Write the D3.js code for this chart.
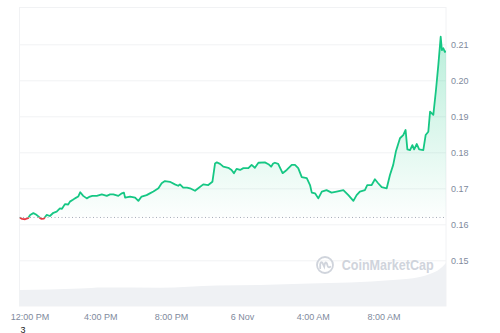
<!DOCTYPE html>
<html>
<head>
<meta charset="utf-8">
<script src="https://cdn.jsdelivr.net/npm/d3@7"></script>
<style>
body { margin: 0; background: #ffffff; }
text { font-family: "Liberation Sans", Arial, Helvetica, sans-serif; }
</style>
</head>
<body>
<div id="wrapper"></div>
<script>
// Data: minutes after 12:00 PM on 5 Nov, price in USD
var minutes = [-34, -25, -15, -5, 2, 13, 22, 30, 36, 41, 49, 58, 69, 81, 92, 103, 110, 120, 131, 137, 147,
    154, 165, 172, 182, 194, 202, 213, 228, 245, 262, 273, 284, 301, 313, 320, 324, 341, 358, 369, 380,
    397, 408, 420, 437, 448, 459, 476, 493, 504, 510, 521, 534, 544, 561, 572, 589, 606, 620, 629, 635,
    646, 657, 674, 685, 693, 702, 714, 725, 742, 753, 764, 776, 798, 810, 819, 826, 832, 843, 858, 872,
    889, 900, 911, 923, 940, 951, 957, 968, 979, 991, 1007, 1024, 1041, 1064, 1081, 1098, 1109, 1120, 1137, 1145,
    1160, 1171, 1182, 1194, 1211, 1222, 1233, 1242, 1256, 1267, 1275, 1281, 1290, 1298, 1304, 1313, 1321, 1335, 1343, 1352,
    1358, 1369, 1378, 1386, 1394, 1398, 1403, 1408, 1412];
var prices = [0.1619, 0.1615, 0.1614, 0.1617, 0.1626, 0.1631, 0.1627, 0.1622, 0.1617, 0.1615, 0.1616, 0.1626, 0.1623, 0.1632, 0.1635, 0.1644, 0.1643, 0.1656, 0.1655, 0.1663, 0.1668,
    0.1672, 0.1677, 0.1689, 0.1679, 0.1672, 0.1676, 0.1679, 0.1679, 0.1683, 0.1679, 0.1683, 0.1683, 0.1679, 0.1686, 0.1688, 0.1674, 0.1677, 0.1674, 0.1665, 0.1677,
    0.1681, 0.1686, 0.1691, 0.1700, 0.1714, 0.1720, 0.1718, 0.1711, 0.1707, 0.1711, 0.1702, 0.1702, 0.1700, 0.1693, 0.1700, 0.1711, 0.1709, 0.1718, 0.1769, 0.1772,
    0.1768, 0.1760, 0.1757, 0.1751, 0.1742, 0.1754, 0.1751, 0.1756, 0.1756, 0.1765, 0.1757, 0.1771, 0.1772, 0.1767, 0.1760, 0.1769, 0.1771, 0.1768, 0.1742, 0.1751,
    0.1765, 0.1765, 0.1756, 0.1731, 0.1728, 0.1709, 0.1688, 0.1686, 0.1672, 0.1691, 0.1695, 0.1688, 0.1691, 0.1695, 0.1681, 0.1665, 0.1681, 0.1691, 0.1695, 0.1709,
    0.1709, 0.1725, 0.1714, 0.1703, 0.1700, 0.1737, 0.1765, 0.1802, 0.1839, 0.1848, 0.1862, 0.1808, 0.1806, 0.1820, 0.1808, 0.1823, 0.1808, 0.1806, 0.1848, 0.1857,
    0.1913, 0.1904, 0.1973, 0.2043, 0.2121, 0.2084, 0.2089, 0.2079, 0.2081];
var openPrice = 0.1619;

// Volume (relative units) for the grey band at the bottom
var volMinutes = [-34, 171, 249, 442, 636, 781, 951, 1086, 1232, 1323, 1357, 1391, 1412];
var volumes = [32, 35, 37, 36.6, 41, 42, 45, 47, 52, 58, 64, 74, 86];

var priceTicks = [0.15, 0.16, 0.17, 0.18, 0.19, 0.20, 0.21];

var width = 500, height = 333;
var plot = {left: 19.5, right: 446, top: 7.5, bottom: 306};
var green = "#16c784", red = "#ea3943", labelColor = "#808a9d", gridColor = "#f1f2f4";

var t0 = new Date(2023, 10, 5, 12, 0);
var toDate = function(m) { return new Date(t0.getTime() + m * 60000); };

var series = minutes.map(function(m, i) { return {date: toDate(m), price: prices[i]}; });
var volSeries = volMinutes.map(function(m, i) { return {date: toDate(m), vol: volumes[i]}; });

var x = d3.scaleTime()
    .domain([series[0].date, series[series.length - 1].date])
    .range([plot.left, plot.right]);
var y = d3.scaleLinear().domain([0.15, 0.21]).range([260.3, 44.3]);
var yVol = d3.scaleLinear().domain([0, 100]).range([plot.bottom, 256]);
var yBase = y(openPrice);

var svg = d3.select("#wrapper").append("svg")
    .attr("width", width)
    .attr("height", height);

var defs = svg.append("defs");

// Function: gradients and clip paths (above / below the opening price)
var addDefs = function() {
    var g = defs.append("linearGradient").attr("id", "gGreen")
        .attr("gradientUnits", "userSpaceOnUse")
        .attr("x1", 0).attr("x2", 0)
        .attr("y1", y(d3.max(prices))).attr("y2", yBase);
    g.append("stop").attr("offset", "0%").attr("stop-color", green).attr("stop-opacity", 0.3);
    g.append("stop").attr("offset", "100%").attr("stop-color", green).attr("stop-opacity", 0.01);

    var r = defs.append("linearGradient").attr("id", "gRed")
        .attr("gradientUnits", "userSpaceOnUse")
        .attr("x1", 0).attr("x2", 0)
        .attr("y1", yBase).attr("y2", y(d3.min(prices)));
    r.append("stop").attr("offset", "0%").attr("stop-color", red).attr("stop-opacity", 0.02);
    r.append("stop").attr("offset", "100%").attr("stop-color", red).attr("stop-opacity", 0.2);

    defs.append("clipPath").attr("id", "above").append("rect")
        .attr("x", plot.left).attr("y", 0)
        .attr("width", plot.right - plot.left).attr("height", yBase);
    defs.append("clipPath").attr("id", "below").append("rect")
        .attr("x", plot.left).attr("y", yBase)
        .attr("width", plot.right - plot.left).attr("height", height - yBase);
};

// Function: frame and horizontal gridlines
var addGrid = function() {
    svg.append("rect")
        .attr("x", plot.left).attr("y", plot.top)
        .attr("width", plot.right - plot.left).attr("height", plot.bottom - plot.top)
        .attr("fill", "none").attr("stroke", gridColor);

    var grid = svg.append("g")
        .attr("transform", "translate(" + plot.left + ",0)")
        .call(d3.axisLeft(y).tickValues(priceTicks).tickSize(-(plot.right - plot.left)).tickFormat(""));
    grid.select(".domain").remove();
    grid.selectAll("line").attr("stroke", gridColor);
};

// Function: volume band
var addVolume = function() {
    var area = d3.area()
        .x(function(d) { return x(d.date); })
        .y0(plot.bottom)
        .y1(function(d) { return yVol(d.vol); })
        .curve(d3.curveMonotoneX);
    svg.append("path").datum(volSeries)
        .attr("d", area)
        .attr("fill", "#eff1f4");
};

// Function: watermark
var addWatermark = function() {
    var wm = svg.append("g").attr("transform", "translate(325,265)").attr("opacity", 0.9);
    wm.append("circle").attr("r", 8).attr("fill", "none").attr("stroke", "#cbd0d9").attr("stroke-width", 1.8);
    wm.append("path")
        .attr("d", "M-4.8,3.2 L-4.8,-0.5 Q-4.5,-3.8 -2.6,-2.2 L-0.8,1.6 Q0,-4.2 1.8,-1.8 L2.6,0.8 Q3.6,3.2 5.2,1.8")
        .attr("fill", "none").attr("stroke", "#cbd0d9").attr("stroke-width", 1.8).attr("stroke-linecap", "round");
    wm.append("text")
        .attr("x", 16.7).attr("y", 5)
        .attr("textLength", 92).attr("lengthAdjust", "spacingAndGlyphs")
        .style("font-size", "14px").style("font-weight", 600)
        .attr("fill", "#cbd0d9")
        .text("CoinMarketCap");
};

// Function: price area, baseline and line
var addPrice = function() {
    var area = d3.area()
        .x(function(d) { return x(d.date); })
        .y0(yBase)
        .y1(function(d) { return y(d.price); });
    var line = d3.line()
        .x(function(d) { return x(d.date); })
        .y(function(d) { return y(d.price); });

    svg.append("path").datum(series).attr("d", area)
        .attr("fill", "url(#gGreen)").attr("clip-path", "url(#above)");
    svg.append("path").datum(series).attr("d", area)
        .attr("fill", "url(#gRed)").attr("clip-path", "url(#below)");

    svg.append("line")
        .attr("x1", plot.left).attr("x2", plot.right)
        .attr("y1", yBase).attr("y2", yBase)
        .attr("stroke", "#a6acb8").attr("stroke-width", 1)
        .attr("stroke-dasharray", "1,2.5");

    svg.append("path").datum(series).attr("d", line)
        .attr("fill", "none").attr("stroke", green).attr("stroke-width", 1.8)
        .attr("stroke-linejoin", "round").attr("clip-path", "url(#above)");
    svg.append("path").datum(series).attr("d", line)
        .attr("fill", "none").attr("stroke", red).attr("stroke-width", 1.8)
        .attr("stroke-linejoin", "round").attr("clip-path", "url(#below)");
};

// Function: axis labels
var addAxes = function() {
    var yAxis = svg.append("g")
        .attr("transform", "translate(" + plot.right + ",0)")
        .call(d3.axisRight(y).tickValues(priceTicks).tickSize(0).tickPadding(5).tickFormat(d3.format(".2f")));
    yAxis.select(".domain").remove();
    yAxis.selectAll("text").attr("fill", labelColor).style("font-size", "9px").style("font-family", null);

    var fmtHour = d3.timeFormat("%-I:%M %p"), fmtDay = d3.timeFormat("%-d %b");
    var xAxis = svg.append("g")
        .attr("transform", "translate(0," + plot.bottom + ")")
        .call(d3.axisBottom(x)
            .ticks(d3.timeHour.every(4))
            .tickSize(0).tickPadding(8)
            .tickFormat(function(d) { return d.getHours() === 0 ? fmtDay(d) : fmtHour(d); }));
    xAxis.select(".domain").remove();
    xAxis.selectAll("text").attr("fill", labelColor).style("font-size", "9px").style("font-family", null);

    svg.append("text")
        .attr("x", 23).attr("y", 332.5)
        .attr("text-anchor", "middle")
        .style("font-size", "9px")
        .attr("fill", "#222")
        .text("3");
};

addDefs();
addGrid();
addVolume();
addWatermark();
addPrice();
addAxes();
</script>
</body>
</html>
